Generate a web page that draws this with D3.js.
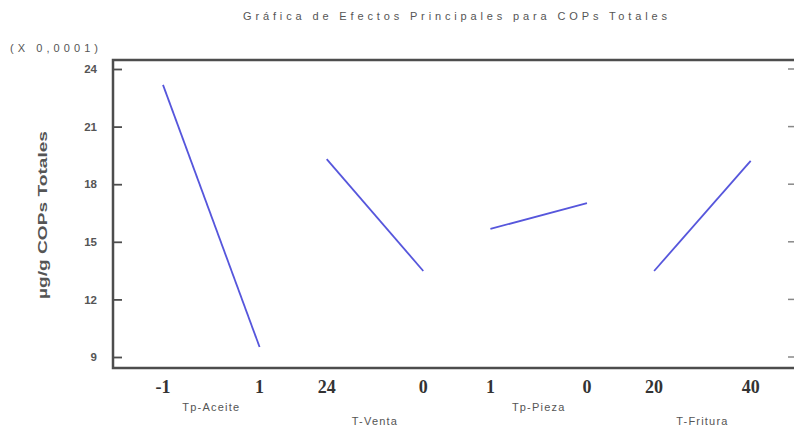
<!DOCTYPE html>
<html><head><meta charset="utf-8">
<script src="https://cdn.jsdelivr.net/npm/d3@7"></script>
<style>body{margin:0;background:#fff}</style>
</head><body>
<svg id="c" width="794" height="428"></svg>
<script>
const factors = ["Tp-Aceite","T-Venta","Tp-Pieza","T-Fritura"];
const levelLabels = [["-1","1"],["24","0"],["1","0"],["20","40"]];
const lowValues = [23.17, 19.31, 15.67, 13.48];
const highValues = [9.52, 13.48, 17.02, 19.21];
const yTicks = [9,12,15,18,21,24];

const svg = d3.select("#c");
const frame = {left:113, right:800, top:60, bottom:368};
const y = d3.scaleLinear().domain([9,24]).range([357,69]);
const x = d3.scaleLinear().domain([0,3.59]).range([163, 163+3.59*163.7]);
const lvlOff = 0.59;

// frame
svg.append("rect").attr("x",frame.left).attr("y",frame.top)
  .attr("width",frame.right-frame.left).attr("height",frame.bottom-frame.top)
  .attr("fill","none").attr("stroke","#4d4d4d").attr("stroke-width",2.5);

// left axis (inward ticks)
const ya = svg.append("g").attr("transform",`translate(${frame.left},0)`)
  .call(d3.axisLeft(y).tickValues(yTicks).tickSizeInner(-9).tickSizeOuter(0).tickPadding(16));
ya.select(".domain").remove();
ya.selectAll("line").attr("stroke","#4d4d4d").attr("stroke-width",1.8);
ya.selectAll("text").attr("font-family","Arial, 'Liberation Sans', sans-serif")
  .attr("font-size",11.5).attr("font-weight","bold").attr("fill","#555");

// right side ticks
svg.append("g").selectAll("line").data(yTicks).join("line")
  .attr("x1",788).attr("x2",794).attr("y1",d=>y(d)).attr("y2",d=>y(d))
  .attr("stroke","#888").attr("stroke-width",1.5);

// effect lines
const data = factors.map((f,i)=>({f,i,lo:lowValues[i],hi:highValues[i]}));
svg.append("g").selectAll("line").data(data).join("line")
  .attr("x1",d=>x(d.i)).attr("x2",d=>x(d.i+lvlOff))
  .attr("y1",d=>y(d.lo)).attr("y2",d=>y(d.hi))
  .attr("stroke","#5656dc").attr("stroke-width",1.8);

// level labels
const lv = [];
levelLabels.forEach((ls,i)=>ls.forEach((l,j)=>lv.push({l,pos:i+j*lvlOff})));
svg.append("g").selectAll("text").data(lv).join("text")
  .attr("x",d=>x(d.pos)).attr("y",393).attr("text-anchor","middle")
  .attr("font-family","'Liberation Serif','Times New Roman',serif")
  .attr("font-weight","bold").attr("font-size",18).attr("fill","#333")
  .text(d=>d.l);

// factor names
svg.append("g").selectAll("text").data(data).join("text")
  .attr("x",d=>x(d.i+lvlOff/2)).attr("y",d=>d.i%2===0?411:425)
  .attr("text-anchor","middle")
  .attr("font-family","Arial, 'Liberation Sans', sans-serif")
  .attr("font-size",11).attr("fill","#555").attr("letter-spacing",1.2)
  .text(d=>d.f);

// title
svg.append("text").attr("x",243).attr("y",20)
  .attr("textLength",424).attr("lengthAdjust","spacing")
  .attr("font-family","Arial, 'Liberation Sans', sans-serif")
  .attr("font-size",11).attr("fill","#555")
  .text("Gráfica de Efectos Principales para COPs Totales");

// multiplier
svg.append("text").attr("x",10).attr("y",52)
  .attr("textLength",88).attr("lengthAdjust","spacing")
  .attr("font-family","Arial, 'Liberation Sans', sans-serif")
  .attr("font-size",11).attr("fill","#555")
  .text("(X 0,0001)");

// y label
svg.append("text").attr("transform","translate(47,215) rotate(-90)")
  .attr("text-anchor","middle")
  .attr("textLength",168).attr("lengthAdjust","spacingAndGlyphs")
  .attr("font-family","Arial, 'Liberation Sans', sans-serif")
  .attr("font-size",13.5).attr("font-weight","bold").attr("fill","#555")
  .text("µg/g COPs Totales");
</script>
</body></html>
